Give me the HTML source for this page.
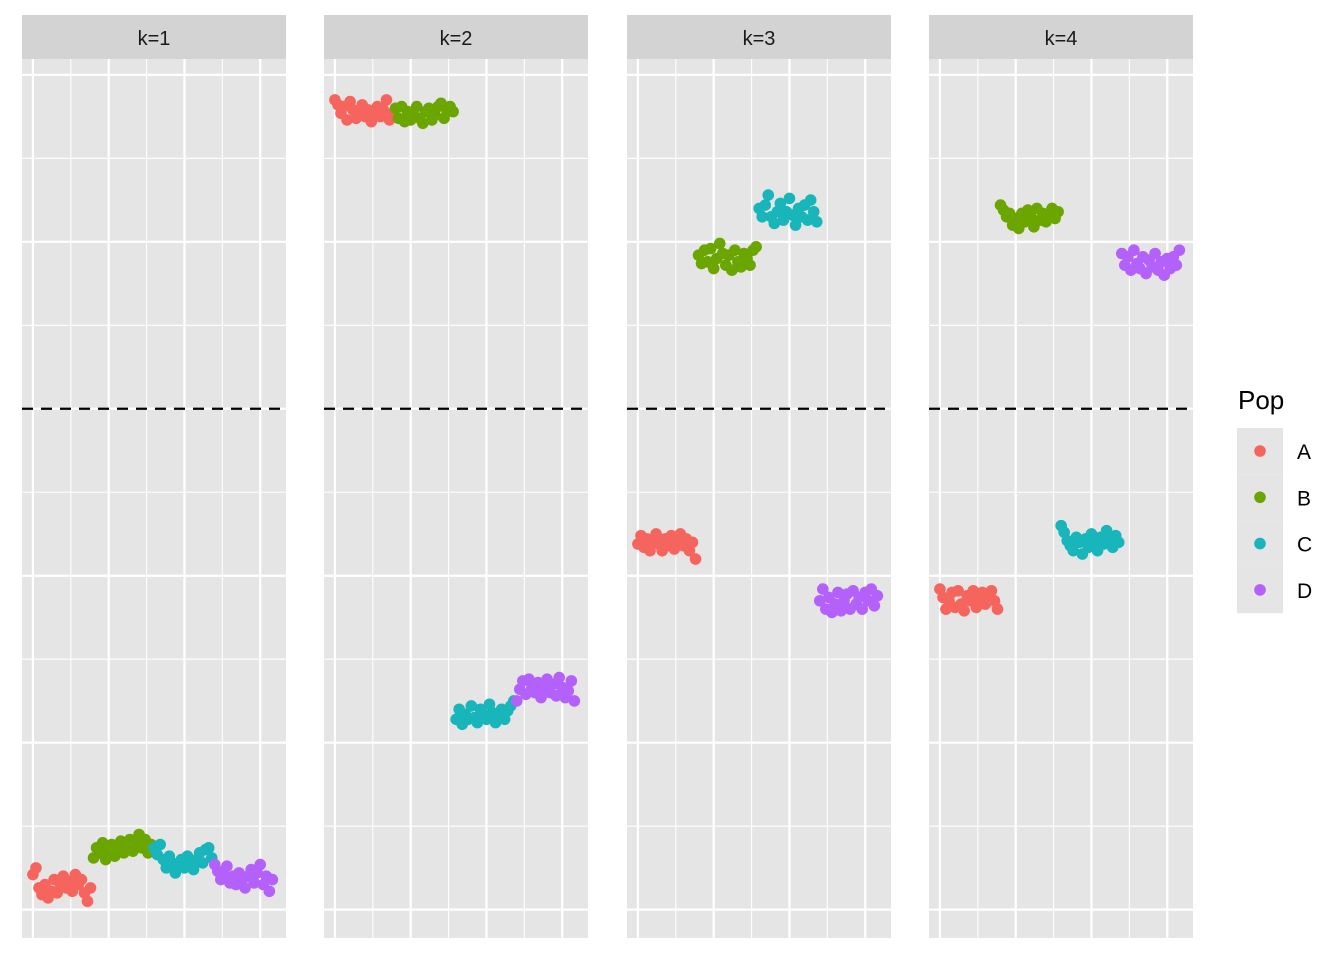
<!DOCTYPE html>
<html><head><meta charset="utf-8"><style>
html,body{margin:0;padding:0;background:#fff;}
svg{display:block;font-family:"Liberation Sans",sans-serif;}
</style></head><body>
<svg id="chart" width="1344" height="960"></svg>
<script>
const panelTitles = ["k=1","k=2","k=3","k=4"];
const pops = ["A","B","C","D"];
const popColors = ["#F6645E","#6AA500","#18B5BA","#B460FB"];
const yBreaksMajor = [-6,-4,-2,0,2,4];
const yBreaksMinor = [-5,-3,-1,1,3];
const xBreaksMajor = [0,25,50,75];
const xBreaksMinor = [12.5,37.5,62.5];
const thresholdValue = 0;
const k1A=[-5.58,-5.50,-5.74,-5.82,-5.70,-5.86,-5.78,-5.64,-5.80,-5.70,-5.60,-5.74,-5.66,-5.78,-5.58,-5.70,-5.64,-5.80,-5.90,-5.74];
const k1B=[-5.38,-5.26,-5.32,-5.20,-5.40,-5.28,-5.22,-5.36,-5.26,-5.18,-5.32,-5.22,-5.16,-5.30,-5.20,-5.10,-5.26,-5.16,-5.32,-5.22];
const k1C=[-5.26,-5.34,-5.22,-5.40,-5.50,-5.36,-5.44,-5.56,-5.46,-5.40,-5.50,-5.36,-5.46,-5.52,-5.40,-5.32,-5.44,-5.28,-5.26,-5.38];
const k1D=[-5.46,-5.54,-5.64,-5.58,-5.48,-5.68,-5.60,-5.70,-5.56,-5.64,-5.74,-5.60,-5.52,-5.68,-5.56,-5.46,-5.70,-5.60,-5.78,-5.64];
const k2A=[3.70,3.64,3.54,3.62,3.46,3.68,3.58,3.48,3.54,3.64,3.50,3.58,3.44,3.54,3.62,3.50,3.58,3.70,3.46,3.54];
const k2B=[3.60,3.48,3.62,3.44,3.56,3.46,3.52,3.62,3.48,3.42,3.56,3.60,3.46,3.52,3.62,3.66,3.48,3.56,3.62,3.56];
const k2C=[-3.72,-3.60,-3.78,-3.66,-3.72,-3.56,-3.70,-3.76,-3.60,-3.66,-3.72,-3.54,-3.64,-3.76,-3.66,-3.60,-3.72,-3.62,-3.56,-3.50];
const k2D=[-3.50,-3.36,-3.26,-3.42,-3.24,-3.34,-3.40,-3.28,-3.46,-3.34,-3.24,-3.40,-3.30,-3.44,-3.22,-3.34,-3.46,-3.38,-3.26,-3.50];
const k3A=[-1.62,-1.52,-1.66,-1.56,-1.70,-1.60,-1.50,-1.62,-1.70,-1.56,-1.64,-1.52,-1.68,-1.60,-1.50,-1.64,-1.56,-1.70,-1.60,-1.80];
const k3B=[1.84,1.74,1.90,1.76,1.92,1.68,1.80,1.98,1.86,1.72,1.84,1.66,1.90,1.76,1.70,1.86,1.80,1.72,1.90,1.94];
const k3C=[2.40,2.30,2.44,2.56,2.30,2.22,2.36,2.46,2.26,2.36,2.52,2.32,2.20,2.40,2.30,2.44,2.26,2.50,2.36,2.24];
const k3D=[-2.30,-2.16,-2.40,-2.26,-2.44,-2.34,-2.20,-2.42,-2.30,-2.22,-2.40,-2.18,-2.34,-2.26,-2.40,-2.20,-2.30,-2.16,-2.36,-2.24];
const k4A=[-2.16,-2.26,-2.40,-2.30,-2.20,-2.38,-2.18,-2.34,-2.42,-2.24,-2.30,-2.18,-2.38,-2.26,-2.20,-2.34,-2.24,-2.18,-2.30,-2.40];
const k4B=[2.44,2.38,2.30,2.34,2.20,2.28,2.16,2.34,2.24,2.38,2.30,2.18,2.40,2.26,2.34,2.24,2.30,2.40,2.28,2.36];
const k4C=[-1.40,-1.48,-1.58,-1.64,-1.70,-1.54,-1.60,-1.74,-1.56,-1.66,-1.50,-1.62,-1.70,-1.54,-1.62,-1.46,-1.58,-1.66,-1.52,-1.60];
const k4D=[1.86,1.72,1.82,1.66,1.90,1.74,1.68,1.82,1.62,1.78,1.70,1.86,1.66,1.76,1.60,1.80,1.68,1.82,1.72,1.90];
const panelData=[[k1A,k1B,k1C,k1D],[k2A,k2B,k2C,k2D],[k3A,k3B,k3C,k3D],[k4A,k4B,k4C,k4D]];

const NS="http://www.w3.org/2000/svg";
const svg=document.getElementById("chart");
function mk(tag,attrs,parent){const e=document.createElementNS(NS,tag);for(const k in attrs)e.setAttribute(k,attrs[k]);(parent||svg).appendChild(e);return e;}
const panelLefts=[22,324,627,929];
const PW=264, PT=59, PB=938, ST=15;
const xMin=-3.6, xMax=83.5, yMin=-6.34, yMax=4.19;
function sx(p,v){return panelLefts[p]+(v-xMin)/(xMax-xMin)*PW;}
function sy(v){return PB-(v-yMin)/(yMax-yMin)*(PB-PT);}

panelData.forEach((groups,p)=>{
  const g=mk("g",{});
  
  
  const L=panelLefts[p];
  const strip=mk("rect",{x:L,y:ST,width:PW,height:PT-ST,fill:"#d3d3d3"},g);
  
  
  const st=mk("text",{x:L+PW/2,y:45,"text-anchor":"middle","font-size":"20",fill:"#1a1a1a"},g);
  st.textContent=panelTitles[p];
  
  
  const bg=mk("rect",{x:L,y:PT,width:PW,height:PB-PT,fill:"#e5e5e5"},g);
  
  
  yBreaksMinor.forEach(v=>{const l=mk("line",{x1:L,x2:L+PW,y1:sy(v),y2:sy(v),stroke:"#fff","stroke-width":1.1},g);});
  xBreaksMinor.forEach(v=>{const l=mk("line",{x1:sx(p,v),x2:sx(p,v),y1:PT,y2:PB,stroke:"#fff","stroke-width":1.1},g);});
  yBreaksMajor.forEach(v=>{const l=mk("line",{x1:L,x2:L+PW,y1:sy(v),y2:sy(v),stroke:"#fff","stroke-width":2.2},g);});
  xBreaksMajor.forEach(v=>{const l=mk("line",{x1:sx(p,v),x2:sx(p,v),y1:PT,y2:PB,stroke:"#fff","stroke-width":2.2},g);});
  let idx=0;
  groups.forEach((vals,gi)=>{
    vals.forEach(v=>{
      const c=mk("circle",{cx:sx(p,idx),cy:sy(v),r:5.8,fill:popColors[gi]},g);
      
      
      idx++;
    });
  });
  const d=mk("line",{x1:L,x2:L+PW,y1:sy(thresholdValue),y2:sy(thresholdValue),stroke:"#000","stroke-width":2.2,"stroke-dasharray":"11 8"},g);
  
  
});

const lg=mk("g",{});


const lt=mk("text",{x:1238,y:409,"font-size":"26",fill:"#000"},lg);
lt.textContent="Pop";


pops.forEach((p,i)=>{
  const y=451+i*46.3;
  const kb=mk("rect",{x:1237,y:y-23,width:46,height:46.3,fill:"#e5e5e5"},lg);
  
  
  const c=mk("circle",{cx:1260,cy:y,r:5.8,fill:popColors[i]},lg);
  
  
  const t=mk("text",{x:1297,y:y+8,"font-size":"21",fill:"#000"},lg);
  t.textContent=p;
  
  
});
</script>
</body></html>
